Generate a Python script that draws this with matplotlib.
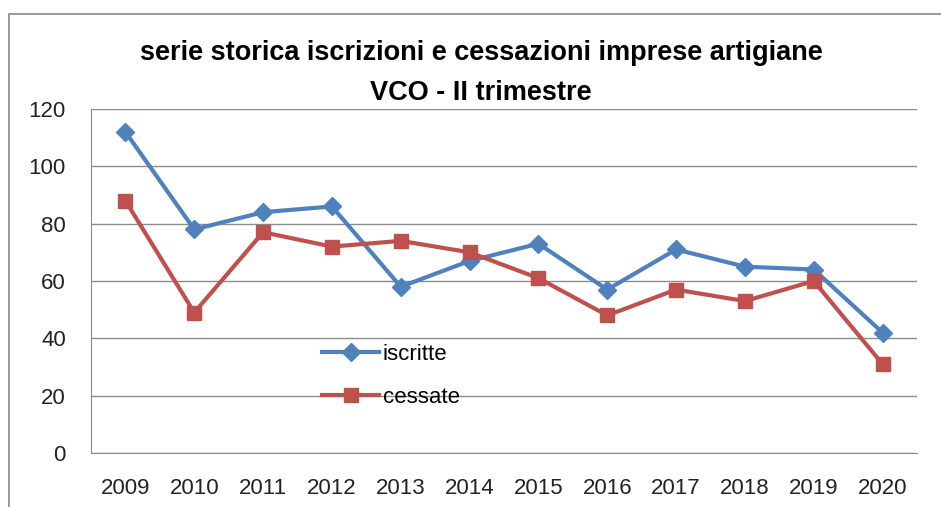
import matplotlib.pyplot as plt
from matplotlib.patches import Rectangle

anni = ["2009", "2010", "2011", "2012", "2013", "2014", "2015",
        "2016", "2017", "2018", "2019", "2020"]
iscritte = [112, 78, 84, 86, 58, 67, 73, 57, 71, 65, 64, 42]
cessate = [88, 49, 77, 72, 74, 70, 61, 48, 57, 53, 60, 31]

plt.rcParams["font.family"] = ["Liberation Sans", "DejaVu Sans"]

fig = plt.figure(figsize=(9.41, 5.07), dpi=100)
ax = fig.add_axes([91 / 941, 1 - 453 / 507, 826 / 941, 344 / 507])

# cornice del grafico
fig.patches.append(Rectangle((9 / 941, -0.1), 1.1, 1.1 - 14 / 507,
                             transform=fig.transFigure, fill=False,
                             edgecolor="#888888", linewidth=1.2))

x = range(len(anni))
ax.plot(x, iscritte, color="#4F81BD", linewidth=3, marker="D",
        markersize=9.5, label="iscritte", zorder=3)
ax.plot(x, cessate, color="#C0504D", linewidth=3, marker="s",
        markersize=10.5, label="cessate", zorder=3)

ax.set_xlim(-0.5, len(anni) - 0.5)
ax.set_ylim(0, 120)
ax.set_yticks(range(0, 121, 20))
ax.set_xticks(list(x))
ax.set_xticklabels(anni)
ax.tick_params(axis="both", length=0, labelsize=16, colors="#222222")
ax.tick_params(axis="y", pad=18)
ax.tick_params(axis="x", pad=18)

ax.grid(axis="y", color="#8C8C8C", linewidth=1)
ax.set_axisbelow(True)
for s in ["top", "right"]:
    ax.spines[s].set_visible(False)
ax.spines["left"].set_color("#8C8C8C")
ax.spines["bottom"].set_color("#8C8C8C")

fig.text(481 / 941, 1 - 53 / 507, "serie storica iscrizioni e cessazioni imprese artigiane",
         ha="center", va="center", fontsize=19.5, fontweight="bold")
fig.text(481 / 941, 1 - 93 / 507, "VCO - II trimestre",
         ha="center", va="center", fontsize=19.5, fontweight="bold")

ax.legend(loc="upper left", bbox_to_anchor=(0.255, 0.375), frameon=False,
          fontsize=16, handlelength=2.6, handletextpad=0.15, labelspacing=1.0)

plt.savefig("out.png", dpi=100)
